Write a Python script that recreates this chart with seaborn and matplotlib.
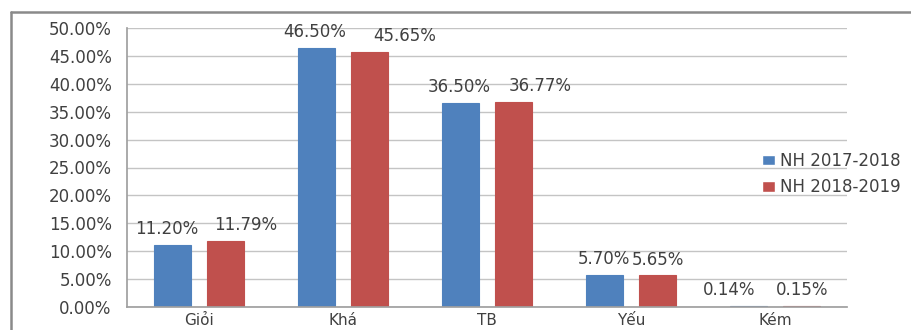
import matplotlib
matplotlib.use("Agg")
import matplotlib.pyplot as plt
from matplotlib.lines import Line2D
from matplotlib.ticker import FuncFormatter, FixedLocator
import seaborn as sns
import pandas as pd

# Xếp loại học lực theo năm học (%)
categories = ["Giỏi", "Khá", "TB", "Yếu", "Kém"]
series_names = ["NH 2017-2018", "NH 2018-2019"]
nh_2017_2018 = [11.20, 46.50, 36.50, 5.70, 0.14]
nh_2018_2019 = [11.79, 45.65, 36.77, 5.65, 0.15]
y_ticks = [0, 5, 10, 15, 20, 25, 30, 35, 40, 45, 50]

# horizontal nudges (in points) that keep neighbouring value labels apart
label_shift = [
    [-4, -1, -1, 0, -14],
    [14, 25, 19, 0, 0],
]

df = pd.DataFrame({
    "Xếp loại": categories * 2,
    "Năm học": [series_names[0]] * len(categories) + [series_names[1]] * len(categories),
    "Tỉ lệ": nh_2017_2018 + nh_2018_2019,
})

sns.set_theme(style="white")
plt.rcParams["font.family"] = ["DejaVu Sans"]
text_color = "#404040"
grid_color = "#c4c4c4"
fs = 12

fig = plt.figure(figsize=(9.11, 3.30), dpi=100)
ax = fig.add_axes([127 / 911, 1 - 307 / 330, 720 / 911, 279 / 330])

palette = ["#4f81bd", "#c0504d"]
sns.barplot(
    data=df, x="Xếp loại", y="Tỉ lệ", hue="Năm học",
    order=categories, hue_order=series_names,
    palette=palette,
    width=0.745, gap=0.31, errorbar=None, saturation=1,
    ax=ax,
)

for si, container in enumerate(ax.containers):
    for bi, bar in enumerate(container):
        bar.set_edgecolor(palette[si])
        bar.set_linewidth(0.8)
        value = container.datavalues[bi]
        ax.annotate(f"{value:.2f}%",
                    xy=(bar.get_x() + bar.get_width() / 2, bar.get_height()),
                    xytext=(label_shift[si][bi], 5), textcoords="offset points",
                    ha="center", va="bottom", fontsize=fs, color=text_color)

ax.set_xlim(-0.5, len(categories) - 0.5)
ax.set_ylim(0, 50)
ax.set_yticks(y_ticks)
ax.yaxis.set_major_formatter(FuncFormatter(lambda v, _: f"{v:.2f}%"))
ax.yaxis.grid(True, color=grid_color, linewidth=1.0)
ax.set_axisbelow(True)
ax.set_xlabel("")
ax.set_ylabel("")

# category boundaries get the tick marks, names sit centred without marks
ax.xaxis.set_minor_locator(FixedLocator([i - 0.5 for i in range(len(categories) + 1)]))
ax.tick_params(axis="x", which="major", length=0, pad=4, labelsize=11, labelcolor=text_color)
ax.tick_params(axis="x", which="minor", length=5, width=1, color="#a0a0a0", direction="out")
ax.tick_params(axis="y", length=6, width=1, color=grid_color, direction="out",
               pad=5, labelsize=fs, labelcolor=text_color)

for side in ("top", "right"):
    ax.spines[side].set_visible(False)
ax.spines["left"].set_color("#a0a0a0")
ax.spines["bottom"].set_color("#a0a0a0")

handles, labels = ax.get_legend_handles_labels()
ax.legend(handles, labels, loc="center left", bbox_to_anchor=(747 / 911, 1 - 174 / 330),
          bbox_transform=fig.transFigure, frameon=False, fontsize=fs,
          handlelength=0.8, handleheight=0.6, handletextpad=0.3, labelspacing=0.5,
          labelcolor=text_color)

# outer chart frame
frame_y = 1 - 12 / 330
frame_x = 11 / 911
fig.add_artist(Line2D([frame_x, frame_x], [0, frame_y], transform=fig.transFigure,
                      color="#8a8a8a", linewidth=1.8))
fig.add_artist(Line2D([frame_x, 1], [frame_y, frame_y], transform=fig.transFigure,
                      color="#8a8a8a", linewidth=1.8))

fig.savefig("out.png", dpi=100)
